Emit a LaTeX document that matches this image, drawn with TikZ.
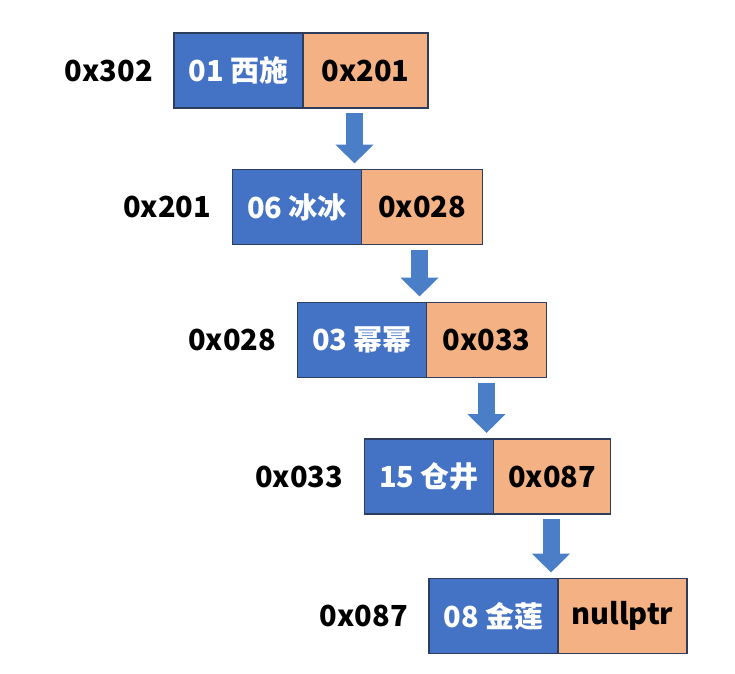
\documentclass[tikz,border=0pt]{standalone}
\usepackage{fontspec}
\setmainfont{Noto Sans CJK SC}
\usetikzlibrary{arrows.meta,positioning}
\definecolor{datablue}{HTML}{4472C4}
\definecolor{ptrorange}{HTML}{F4B183}
\definecolor{edgenavy}{HTML}{2F3D5C}
\definecolor{arrowblue}{HTML}{4A7EC6}
\begin{document}
\begin{tikzpicture}[x=1pt,y=-1pt,font=\fontsize{29}{32}\selectfont\bfseries,
 cell/.style={draw=edgenavy,line width=1.3pt,minimum height=75pt,inner sep=0pt,outer sep=0pt},
 data/.style={cell,fill=datablue,text=white,minimum width=129pt},
 ptr/.style={cell,fill=ptrorange,anchor=west},
 addr/.style={inner sep=0pt},
 link/.style={arrowblue,line width=17pt,-{Triangle[width=37pt,length=19pt]}}]
\useasboundingbox (0,0) rectangle (735,673);
% list nodes: data part + next pointer
\node[data] (d1) at (238.5,70.5) {01 西施};
\node[ptr,minimum width=125pt] (p1) at (d1.east) {0x201};
\node[data] (d2) at (297,207) {06 冰冰};
\node[ptr,minimum width=121pt] (p2) at (d2.east) {0x028};
\node[data] (d3) at (362,340) {03 幂幂};
\node[ptr,minimum width=120pt] (p3) at (d3.east) {0x033};
\node[data] (d4) at (429,476.5) {15 仓井};
\node[ptr,minimum width=117pt] (p4) at (d4.east) {0x087};
\node[data] (d5) at (493.5,616) {08 金莲};
\node[ptr,minimum width=129pt] (p5) at (d5.east) {nullptr};
% addresses
\node[addr,left=21pt of d1] (a1) {0x302};
\node[addr,left=21pt of d2] (a2) {0x201};
\node[addr,left=21pt of d3] (a3) {0x028};
\node[addr,left=21pt of d4] (a4) {0x033};
\node[addr,left=21pt of d5] (a5) {0x087};
% links
\draw[link]([xshift=-7pt,yshift=-5pt]d2.north east |- p1.south)--([xshift=-7pt,yshift=6pt]d2.north east);
\draw[link]([xshift=-7pt,yshift=-5pt]d3.north east |- p2.south)--([xshift=-7pt,yshift=6pt]d3.north east);
\draw[link]([xshift=-7pt,yshift=-5pt]d4.north east |- p3.south)--([xshift=-7pt,yshift=6pt]d4.north east);
\draw[link]([xshift=-7pt,yshift=-5pt]d5.north east |- p4.south)--([xshift=-7pt,yshift=6pt]d5.north east);
\end{tikzpicture}
\end{document}
